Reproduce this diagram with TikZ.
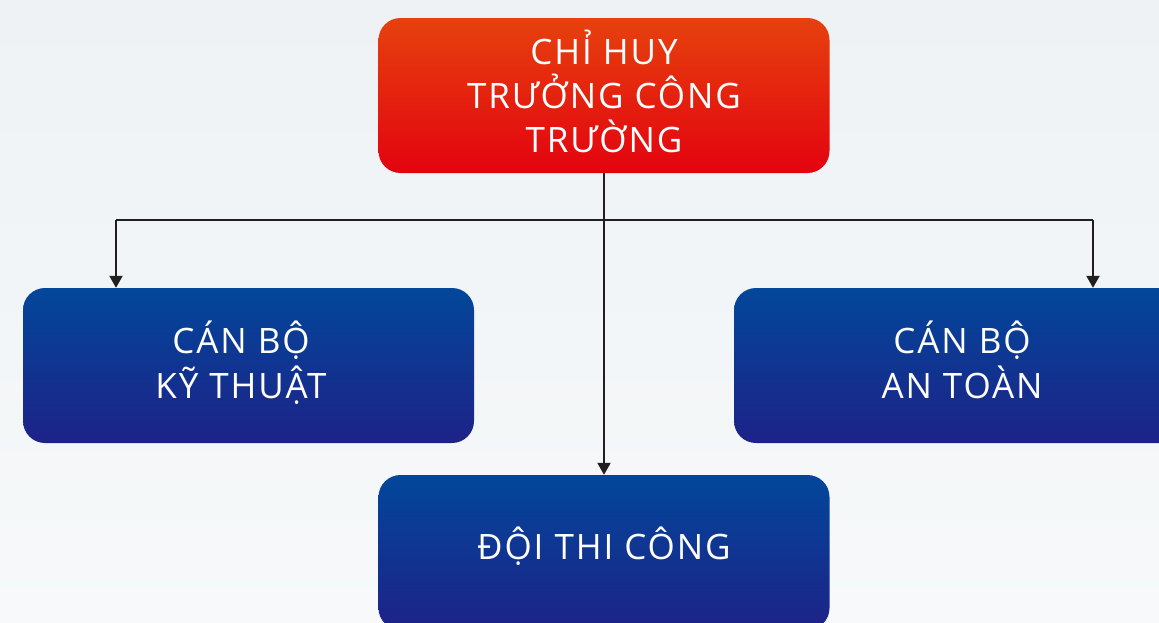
\documentclass[tikz,border=0pt]{standalone}
\usepackage{fontspec}
\setmainfont{Open Sans}[LetterSpace=5.5]
\usetikzlibrary{arrows.meta}
\definecolor{bgtop}{HTML}{EEF2F5}
\definecolor{bgbot}{HTML}{F7F9FA}
\definecolor{redtop}{HTML}{E6410E}
\definecolor{redbot}{HTML}{E3030F}
\definecolor{bluetop}{HTML}{02479A}
\definecolor{bluebot}{HTML}{1E2288}
\definecolor{linec}{HTML}{231F20}
\tikzset{
  box/.style={rounded corners=22pt, minimum width=451pt, minimum height=155pt,
    inner sep=0pt},
  redbox/.style={box, top color=redtop, bottom color=redbot},
  bluebox/.style={box, top color=bluetop, bottom color=bluebot},
  lbl/.style={anchor=base, inner sep=0pt, text=white, font=\fontsize{35}{44}\selectfont},
  conn/.style={draw=linec, line width=2pt, -{Triangle[length=12pt,width=13pt]}},
  connl/.style={draw=linec, line width=2pt}
}
\begin{document}
\begin{tikzpicture}[x=1pt,y=-1pt]
\useasboundingbox (0,0) rectangle (1159,622);
\clip (0,0) rectangle (1159,622);
\shade[top color=bgtop, bottom color=bgbot] (0,0) rectangle (1159,622);
\node[redbox] (chh) at (604,95.5) {};
\node[bluebox] (kt) at (248.5,365.5) {};
\node[bluebox] (at) at (959.5,365.5) {};
\node[bluebox] (dtc) at (604,552.5) {};
\node[lbl] (chh1) at (604,64) {CHỈ HUY};
\node[lbl] (chh2) at (604,108) {TRƯỞNG CÔNG};
\node[lbl] (chh3) at (604,152) {TRƯỜNG};
\node[lbl] (kt1) at (241,353) {CÁN BỘ};
\node[lbl] (kt2) at (241,398) {KỸ THUẬT};
\node[lbl] (at1) at (962,353) {CÁN BỘ};
\node[lbl] (at2) at (962,398) {AN TOÀN};
\node[lbl] (dtc1) at (604,559) {ĐỘI THI CÔNG};
\coordinate (hl) at (116,220);
\coordinate (hr) at (1093,220);
\draw[conn] (chh.south) -- (dtc.north);
\draw[connl] (hl) -- (hr);
\draw[conn] (hl) -- (hl |- kt.north);
\draw[conn] (hr) -- (hr |- at.north);
\end{tikzpicture}
\end{document}
